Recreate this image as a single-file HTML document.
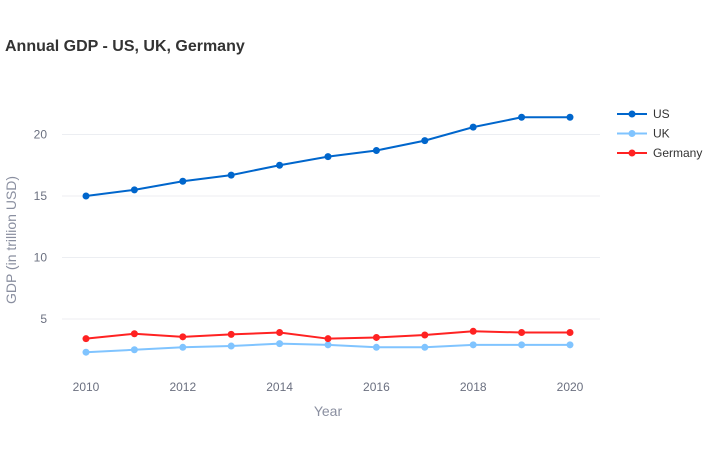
<!DOCTYPE html>
<html><head><meta charset="utf-8"><style>
body{margin:0;background:#fff;font-family:"Liberation Sans",Arial,sans-serif}
</style></head><body>
<svg id="c" width="704" height="450" xmlns="http://www.w3.org/2000/svg">
<text x="5" y="51" font-size="16" font-weight="bold" fill="#333">Annual GDP - US, UK, Germany</text>
<g id="grid"></g><g id="series"></g>
<text x="328" y="416" font-size="14" fill="#8a8fa0" text-anchor="middle">Year</text>
<text transform="translate(16,240) rotate(-90)" font-size="14" fill="#8a8fa0" text-anchor="middle">GDP (in trillion USD)</text>
<g id="legend"></g>
</svg>
<script>
const years=[2010,2011,2012,2013,2014,2015,2016,2017,2018,2019,2020];
const us=[15.0,15.5,16.2,16.7,17.5,18.2,18.7,19.5,20.6,21.4,21.4];
const uk=[2.3,2.5,2.7,2.8,3.0,2.9,2.7,2.7,2.9,2.9,2.9];
const germany=[3.4,3.8,3.55,3.75,3.9,3.4,3.5,3.7,4.0,3.9,3.9];
const yTicks=[5,10,15,20];
const xTicks=[2010,2012,2014,2016,2018,2020];
const seriesNames=["US","UK","Germany"];
const NS="http://www.w3.org/2000/svg";
const xs=v=>86+(v-2010)*48.4;
const ys=v=>380.5-v*12.3;
function mk(t,a,p){const e=document.createElementNS(NS,t);for(const k in a)e.setAttribute(k,a[k]);p.appendChild(e);return e;}
const grid=document.getElementById('grid');
yTicks.forEach(t=>{
 const l=mk('line',{x1:62,x2:600,y1:ys(t),y2:ys(t),stroke:'#eceef2','stroke-width':1},grid);
 
 
 const tx=mk('text',{x:47,y:ys(t)+4,'font-size':12,fill:'#6b7080','text-anchor':'end'},grid);tx.textContent=t;
 
 
});
xTicks.forEach(t=>{
 const tx=mk('text',{x:xs(t),y:391,'font-size':12,fill:'#6b7080','text-anchor':'middle'},grid);tx.textContent=t;
 
 
});
const colors=['#0066cc','#80c4ff','#ff2222'];
const data=[us,uk,germany];
const sg=document.getElementById('series');
data.forEach((d,i)=>{
 const p=mk('polyline',{points:d.map((v,j)=>xs(years[j])+','+ys(v)).join(' '),fill:'none',stroke:colors[i],'stroke-width':2},sg);
 
 
 d.forEach((v,j)=>{
  const c=mk('circle',{cx:xs(years[j]),cy:ys(v),r:3.5,fill:colors[i]},sg);
  
  
 });
});
const lg=document.getElementById('legend');
seriesNames.forEach((n,i)=>{
 const y=114+i*19.5;
 const g=mk('g',{},lg);
 
 
 mk('line',{x1:617,x2:647,y1:y,y2:y,stroke:colors[i],'stroke-width':2},g);
 mk('circle',{cx:632,cy:y,r:3.5,fill:colors[i]},g);
 const t=mk('text',{x:653,y:y+4,'font-size':12,fill:'#333'},g);t.textContent=n;
});
</script>
</body></html>
